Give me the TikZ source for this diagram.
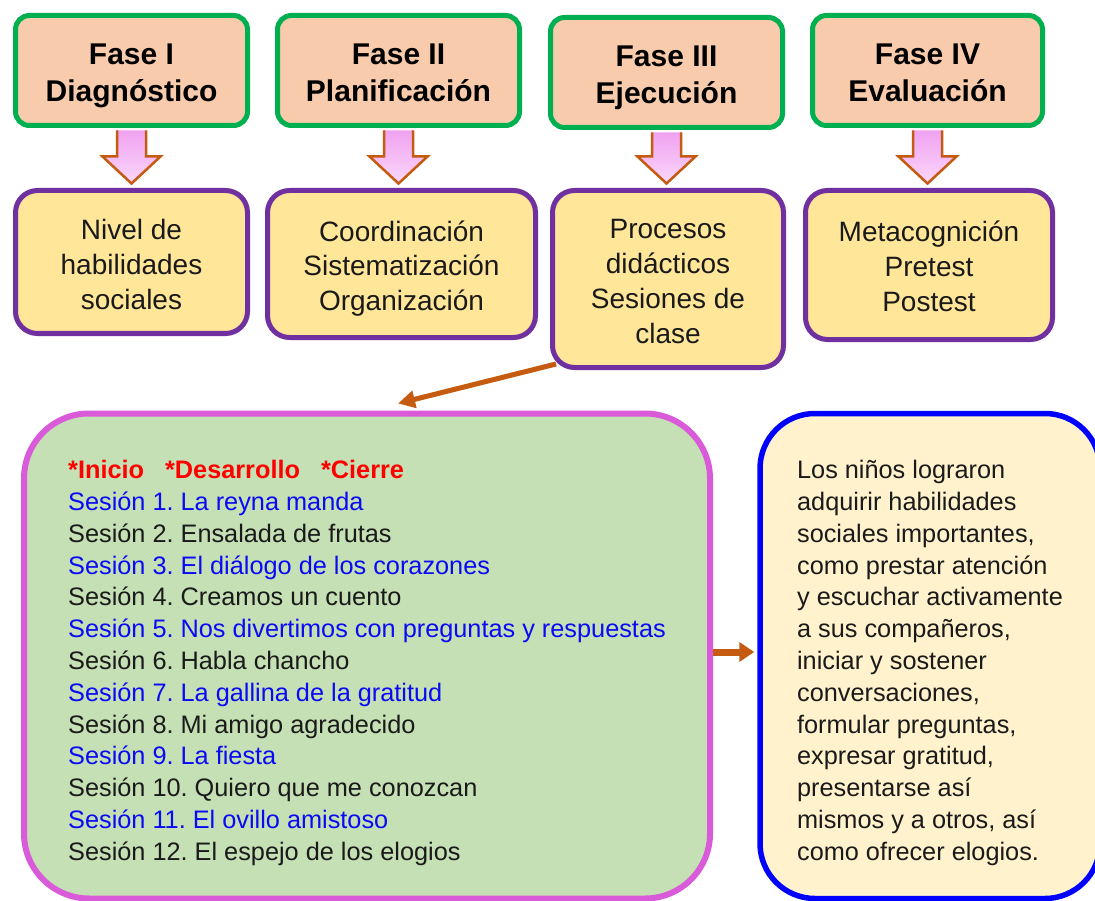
\documentclass[tikz,border=0pt]{standalone}
\usepackage{fontspec}
\setmainfont{Liberation Sans}
\usepackage{tikz}
\usetikzlibrary{arrows.meta,positioning,calc}
\frenchspacing
\definecolor{verdefase}{HTML}{00B050}
\definecolor{salmon}{HTML}{F8CBAD}
\definecolor{morado}{HTML}{7030A0}
\definecolor{crema}{HTML}{FFE699}
\definecolor{verdeses}{HTML}{C5E0B4}
\definecolor{orquidea}{HTML}{D95BD9}
\definecolor{azulbox}{HTML}{0000FF}
\definecolor{beige}{HTML}{FFF2CC}
\definecolor{naranja}{HTML}{C55A11}
\definecolor{rosa}{HTML}{F0A2F0}
\definecolor{rosaclaro}{HTML}{FAD8FA}
\definecolor{rojo}{HTML}{FF0000}
\definecolor{azul}{HTML}{0A0AF5}
\definecolor{negro}{HTML}{1A1A1A}
\newcommand{\alto}[1]{\rule{0pt}{#1}}
\newcommand{\bajo}[1]{\rule[-#1]{0pt}{0pt}}
\tikzstyle{fasestyle}=[draw=verdefase,fill=salmon,line width=5pt,rounded corners=14pt,minimum height=110pt,align=center,inner sep=0pt,text=black,font=\fontsize{30}{37}\selectfont\bfseries]
\tikzstyle{contstyle}=[draw=morado,fill=crema,line width=5pt,rounded corners=22pt,align=center,inner sep=0pt,text=negro,font=\fontsize{28}{35}\selectfont]

\begin{document}
\begin{tikzpicture}[x=1pt,y=-1pt]
	\tikzstyle{sesstyle}=[draw=orquidea,fill=verdeses,line width=6pt,rounded corners=65pt,align=left,inner sep=0pt,text=negro,font=\fontsize{25.3}{31.8}\selectfont]
	\tikzstyle{logrostyle}=[draw=azulbox,fill=beige,line width=5.5pt,rounded corners=55pt,align=left,inner sep=0pt,text=negro,font=\fontsize{25.3}{31.8}\selectfont]
	\tikzstyle{flechagorda}=[draw=naranja,line width=2.5pt,line join=miter,top color=rosa,bottom color=rosaclaro]
	\tikzstyle{flecha}=[draw=naranja,line width=5pt,-{Triangle[length=17pt,width=17pt]}]
	\useasboundingbox (0,0) rectangle (1095,901);

	\node[fasestyle,minimum width=232pt]	(f1) at (131.5,70.5)	{\alto{34pt}Fase I\\Diagnóstico\bajo{8pt}};
	\node[fasestyle,minimum width=242pt]	(f2) at (398.5,70.5)	{\alto{34pt}Fase II\\Planificación\bajo{8pt}};
	\node[fasestyle,minimum width=232pt]	(f3) at (666.5,72.5)	{\alto{34pt}Fase III\\Ejecución\bajo{8pt}};
	\node[fasestyle,minimum width=230pt]	(f4) at (927.5,70.5)	{\alto{34pt}Fase IV\\Evaluación\bajo{8pt}};

	\node[contstyle,minimum width=232pt,minimum height=143pt]	(n1) at (131.5,262)	{\alto{30pt}Nivel de\\habilidades\\sociales\bajo{6pt}};
	\node[contstyle,minimum width=268pt,minimum height=147pt]	(n2) at (401.5,264)	{\alto{30pt}Coordinación\\Sistematización\\Organización\bajo{6pt}};
	\node[contstyle,minimum width=231pt,minimum height=177pt]	(n3) at (668,279)	{\alto{30pt}Procesos\\didácticos\\Sesiones de\\clase\bajo{6pt}};
	\node[contstyle,minimum width=247pt,minimum height=149pt]	(n4) at (929,265)	{\alto{30pt}Metacognición\\Pretest\\Postest\bajo{6pt}};

	\node[sesstyle,minimum width=686pt,minimum height=485pt]	(sess) at (367,656)
		{\alto{33pt}\textcolor{rojo}{\bfseries *Inicio\hspace{21pt}*Desarrollo\hspace{21pt}*Cierre}\\
		\textcolor{azul}{Sesión 1. La reyna manda}\\
		Sesión 2. Ensalada de frutas\\
		\textcolor{azul}{Sesión 3. El diálogo de los corazones}\\
		Sesión 4. Creamos un cuento\\
		\textcolor{azul}{Sesión 5. Nos divertimos con preguntas y respuestas}\\
		Sesión 6. Habla chancho\\
		\textcolor{azul}{Sesión 7. La gallina de la gratitud}\\
		Sesión 8. Mi amigo agradecido\\
		\textcolor{azul}{Sesión 9. La fiesta}\\
		Sesión 10. Quiero que me conozcan\\
		\textcolor{azul}{Sesión 11. El ovillo amistoso}\\
		Sesión 12. El espejo de los elogios\bajo{6pt}};
	\node[logrostyle,minimum width=340pt,minimum height=485pt]	(logro) at (930,656)
		{\alto{33pt}Los niños lograron\\
		adquirir habilidades\\
		sociales importantes,\\
		como prestar atención\\
		y escuchar activamente\\
		a sus compañeros,\\
		iniciar y sostener\\
		conversaciones,\\
		formular preguntas,\\
		expresar gratitud,\\
		presentarse así\\
		mismos y a otros, así\\
		como ofrecer elogios.\bajo{6pt}};

	\foreach \a/\b in {f1/n1,f2/n2,f3/n3,f4/n4}{
		\path ([yshift=-2.5pt]\a.south) coordinate (arr) (\a.south |- \b.north) coordinate (pta);
		\draw[flechagorda] ([xshift=-14.5pt]arr) -- ([xshift=-14.5pt,yshift=31.5pt]pta) -- ([xshift=-29pt,yshift=31.5pt]pta)
			-- ([yshift=4.5pt]pta) -- ([xshift=29pt,yshift=31.5pt]pta) -- ([xshift=14.5pt,yshift=31.5pt]pta) -- ([xshift=14.5pt]arr);
	}

	\coordinate (entrada) at ([xshift=31pt,yshift=7pt]sess.north);
	\draw[flecha] ($(n3.south west)+(6,-6)$) -- (entrada);
	\draw[flecha,line width=7pt,-{Triangle[length=15pt,width=19pt]},shorten >=3pt] ([yshift=4pt]sess.east) -- ([yshift=4pt]logro.west);

\end{tikzpicture}
\end{document}
